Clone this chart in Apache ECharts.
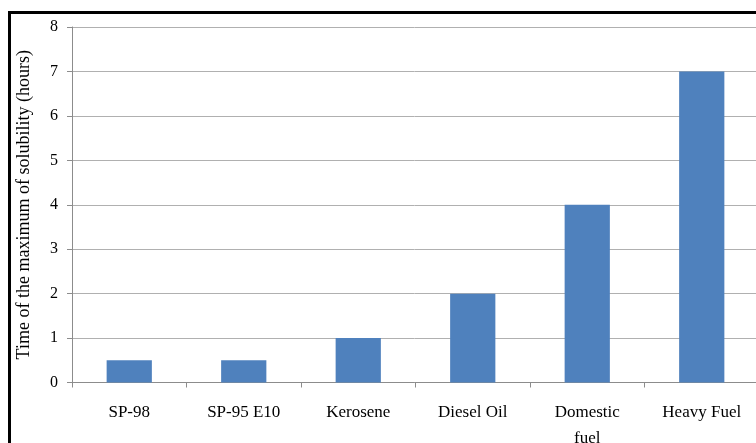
<!DOCTYPE html>
<html><head><meta charset="utf-8">
<script src="https://cdn.jsdelivr.net/npm/echarts@6/dist/echarts.min.js"></script>
<style>html,body{margin:0;padding:0;background:#fff}#c{width:756px;height:443px}</style>
</head><body><div id="c"></div>
<script>
const categories = ['SP-98', 'SP-95 E10', 'Kerosene', 'Diesel Oil', 'Domestic\nfuel', 'Heavy Fuel'];
const values = [0.5, 0.5, 1, 2, 4, 7];
const yTicks = [0, 1, 2, 3, 4, 5, 6, 7, 8];
const yName = 'Time of the maximum of solubility (hours)';
const font = '"Liberation Serif", "DejaVu Serif", serif';
const chart = echarts.init(document.getElementById('c'), null, {renderer: 'canvas'});
chart.setOption({
  animation: false,
  backgroundColor: '#fff',
  graphic: [{
    type: 'rect', z: 100,
    shape: {x: 9.5, y: 12.5, width: 800, height: 500},
    style: {fill: 'none', stroke: '#000', lineWidth: 3}
  }],
  grid: {left: 72, top: 27, right: -3, bottom: 60.5, containLabel: false, outerBoundsMode: 'none'},
  xAxis: {
    type: 'category', data: categories,
    axisLine: {lineStyle: {color: '#8c8c8c', width: 1}},
    axisTick: {show: true, length: 5, lineStyle: {color: '#8c8c8c'}},
    axisLabel: {color: '#000', fontFamily: font, fontSize: 17, margin: 17, lineHeight: 26, interval: 0}
  },
  yAxis: {
    type: 'value', min: yTicks[0], max: yTicks[yTicks.length - 1], interval: 1,
    name: yName, nameLocation: 'middle', nameGap: 39,
    nameTextStyle: {color: '#000', fontFamily: font, fontSize: 18},
    axisLine: {show: true, lineStyle: {color: '#8c8c8c', width: 1}},
    axisTick: {show: true, length: 5, lineStyle: {color: '#8c8c8c'}},
    splitLine: {lineStyle: {color: '#b0b0b0', width: 1}},
    axisLabel: {color: '#000', fontFamily: font, fontSize: 16, margin: 14}
  },
  series: [{
    type: 'bar', data: values, barWidth: '39.5%',
    itemStyle: {color: '#4f81bd'}
  }]
});
</script></body></html>
